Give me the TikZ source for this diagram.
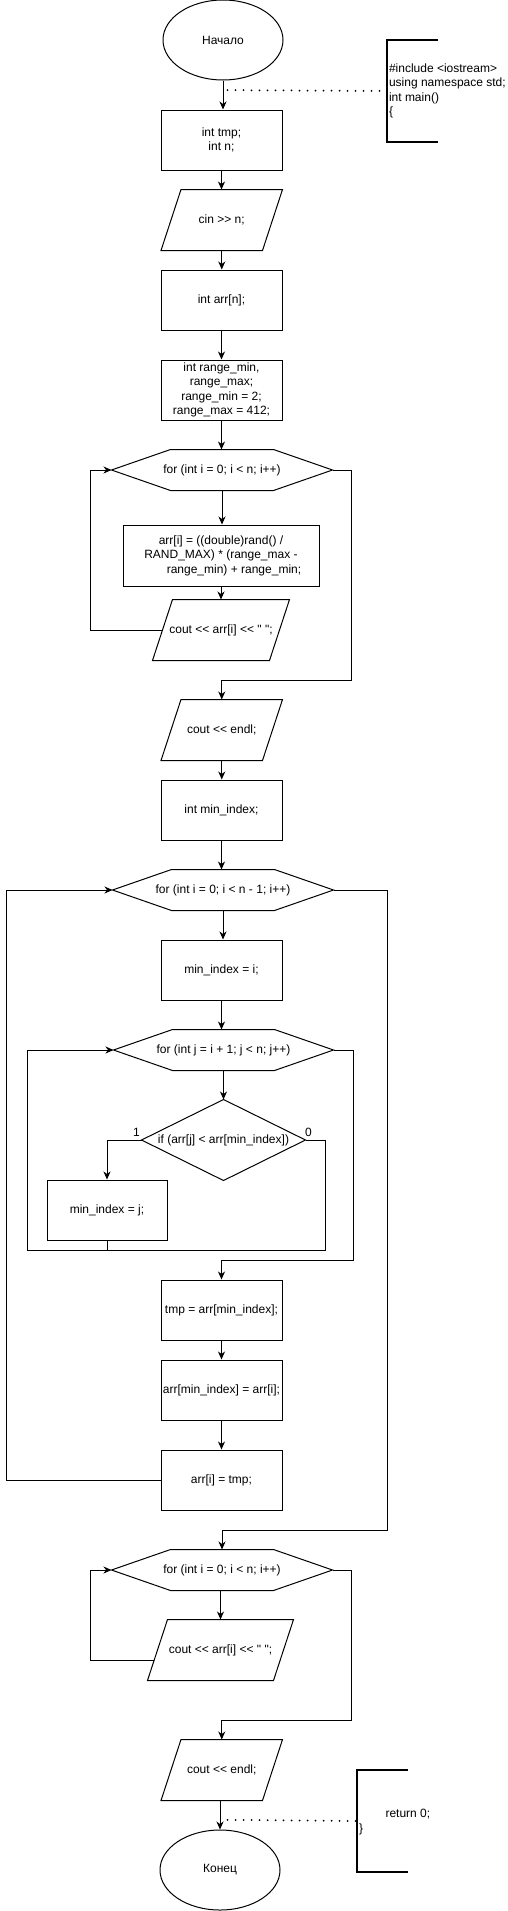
\documentclass[tikz,border=0pt]{standalone}
\usepackage{fontspec}
\newfontfamily\arialfont{Liberation Sans}
\usetikzlibrary{shapes.geometric,arrows.meta,calc}
\newcommand\hexoutline[1]{\draw (#1.west) -- ([xshift=59pt]#1.north west) -- ([xshift=-59pt]#1.north east) -- (#1.east) -- ([xshift=-59pt]#1.south east) -- ([xshift=59pt]#1.south west) -- cycle;}
\newcommand\paraoutline[1]{\draw ([xshift=10pt]#1.north west) -- ([xshift=10pt]#1.north east) -- ([xshift=-10pt]#1.south east) -- ([xshift=-10pt]#1.south west) -- cycle;}
\begin{document}
\begin{tikzpicture}[x=1pt,y=-1pt,
  font=\arialfont\fontsize{12}{14.5}\selectfont,
  line width=1pt,
  procbox/.style={draw, rectangle, minimum width=121pt, minimum height=60pt, inner sep=1pt, align=center},
  paranode/.style={rectangle, minimum height=60pt, inner sep=1pt, align=center},
  hexnode/.style={rectangle, minimum width=220pt, minimum height=40pt, inner sep=0pt},
  term/.style={draw, ellipse, minimum width=120pt, minimum height=80pt, inner sep=0pt},
  arr/.style={-{Stealth[length=8pt,width=7pt,inset=2.5pt]}},
  dotline/.style={line width=2pt, dash pattern=on 0pt off 8pt, line cap=round},
  bracketline/.style={line width=2pt},
  lbl/.style={inner sep=0pt}
]
\fill[white] (0,0) rectangle (507,1911);
\useasboundingbox (0,0) rectangle (507,1911);

% nodes
\node[term] (start) at (223,40) {Начало};
\node[procbox] (b1) at (221.5,140) {int tmp;\\int n;};
\node[paranode, minimum width=100.5pt] (cin) at (221.75,220) {cin >> n;}; \paraoutline{cin}
\node[procbox] (b2) at (221.5,300) {int arr[n];};
\node[procbox] (b3) at (221.5,390) {int range\_min,\\range\_max;\\range\_min = 2;\\range\_max = 412;};
\node[hexnode] (h1) at (222,470) {for (int i = 0; i < n; i++)}; \hexoutline{h1}
\node[procbox, minimum width=196pt, minimum height=61pt] (b4) at (221,555.5) {arr[i] = ((double)rand() /\\RAND\_MAX) * (range\_max -\\\hspace*{26pt}range\_min) + range\_min;};
\node[paranode, minimum width=116pt] (p1) at (221,630) {cout << arr[i] << " ";}; \paraoutline{p1}
\node[paranode, minimum width=100.5pt] (p2) at (221.75,730) {cout << endl;}; \paraoutline{p2}
\node[procbox] (b5) at (221.5,810) {int min\_index;};
\node[hexnode] (h2) at (223,890) {for (int i = 0; i < n - 1; i++)}; \hexoutline{h2}
\node[procbox] (b6) at (221.5,970) {min\_index = i;};
\node[hexnode, minimum width=219pt] (h3) at (223.5,1050) {for (int j = i + 1; j < n; j++)}; \hexoutline{h3}
\node[rectangle, minimum width=163pt, minimum height=80pt, inner sep=0pt] (dia) at (223.5,1140) {if (arr[j] < arr[min\_index])};
\draw (dia.north) -- (dia.east) -- (dia.south) -- (dia.west) -- cycle;
\node[procbox, minimum width=120pt] (b7) at (107,1210) {min\_index = j;};
\node[procbox] (b8) at (221.5,1310) {tmp = arr[min\_index];};
\node[procbox] (b9) at (221.5,1390) {arr[min\_index] = arr[i];};
\node[procbox] (b10) at (221.5,1480) {arr[i] = tmp;};
\node[hexnode] (h4) at (222,1570) {for (int i = 0; i < n; i++)}; \hexoutline{h4}
\node[paranode, minimum width=125pt] (p3) at (220.5,1650) {cout << arr[i] << " ";}; \paraoutline{p3}
\node[paranode, minimum width=100.5pt] (p4) at (221.75,1770) {cout << endl;}; \paraoutline{p4}
\node[term] (end) at (220,1870) {Конец};

% labels
\node[lbl] (l1) at ([xshift=-5pt,yshift=7.5pt]dia.west) {1};
\node[lbl] (l0) at ([xshift=3pt,yshift=7.5pt]dia.east) {0};

% annotations
\node[rectangle, minimum width=50pt, minimum height=101pt, inner sep=0pt, anchor=north west] (br1) at (387,40) {};
\draw[bracketline] (br1.north east) -- (br1.north west) -- (br1.south west) -- (br1.south east);
\node[inner sep=0pt, anchor=west, align=left] (t1) at ([xshift=1.5pt]br1.west) {\#include <iostream>\\using namespace std;\\int main()\\\{};
\node[rectangle, minimum width=50pt, minimum height=101pt, inner sep=0pt, anchor=north west] (br2) at (357,1770) {};
\draw[bracketline] (br2.north east) -- (br2.north west) -- (br2.south west) -- (br2.south east);
\node[inner sep=0pt, anchor=west, align=left] (t2) at ([xshift=1.5pt,yshift=-1pt]br2.west) {\hspace*{26.5pt}return 0;\\\}};

% connectors
\draw[arr] (start.south) -- (start.south |- b1.north);
\draw[arr] (b1) -- (b1 |- cin.north);
\draw[arr] (cin.south) -- (cin.south |- b2.north);
\draw[arr] (b2) -- (b2 |- b3.north);
\draw[arr] (b3.south) -- (b3.south |- h1.north);
\draw[arr] (h1.south) -- (h1.south |- b4.north);
\draw[arr] (b4.south) -- (b4.south |- p1.north);
\draw[arr] (p1.west) -- ++(-72,0) |- (h1.west);
\draw[arr] (h1.east) -- ++(19,0) -- ++(0,210) -| (p2.north);
\draw[arr] (p2.south) -- (p2.south |- b5.north);
\draw[arr] (b5.south) -- (b5.south |- h2.north);
\draw[arr] (h2.south) -- (h2.south |- b6.north);
\draw[arr] (b6.south) -- (b6.south |- h3.north);
\draw[arr] (h3.south) -- (h3.south |- dia.north);
\draw[arr] (dia.west) -| (b7.north);
\draw (b7.south) -- ++(0,10) coordinate (m1);
\draw[arr] (dia.east) -- ++(20,0) |- (m1) -- ++(-80,0) |- (h3.west);
\draw[arr] (h3.east) -- ++(20,0) -- ++(0,210) -| (b8.north);
\draw[arr] (b8.south) -- (b8.south |- b9.north);
\draw[arr] (b9.south) -- (b9.south |- b10.north);
\draw[arr] (b10.west) -- ++(-154,0) |- (h2.west);
\draw[arr] (h2.east) -- ++(54,0) -- ++(0,640) -| (h4.north);
\draw[arr] (p3.north |- h4.south) -- (p3.north);
\draw[arr] ([xshift=-3.3pt,yshift=-10pt]p3.west) -- ++(-63.7,0) |- (h4.west);
\draw[arr] (h4.east) -- ++(19,0) -- ++(0,150) -| (p4.north);
\draw[arr] (end.north |- p4.south) -- (end.north);

% dotted comment links
\draw[dotline] ($(start.south)!0.333!(b1.north)+(5,0)$) -- (br1.west);
\draw[dotline] ($(p4.south)!0.667!(end.north)+(7,0)$) -- (br2.west);
\end{tikzpicture}
\end{document}
